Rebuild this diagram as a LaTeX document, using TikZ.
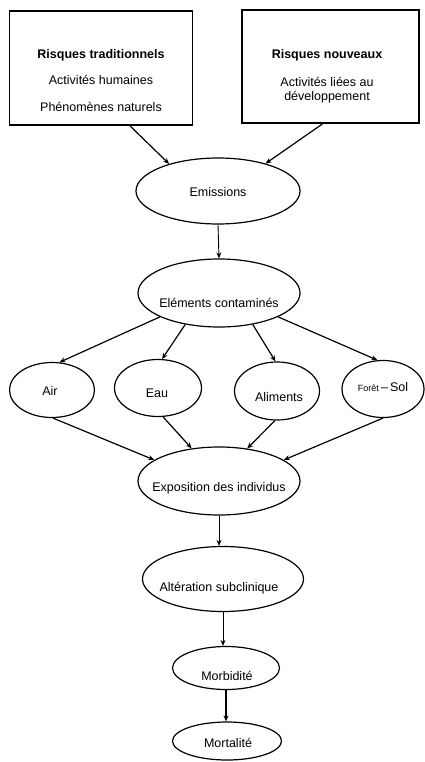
\documentclass[tikz,border=0pt]{standalone}
\usepackage{fontspec}
\setmainfont{Liberation Sans}
\usetikzlibrary{shapes.geometric,arrows.meta}
\begin{document}
\begin{tikzpicture}[x=1pt,y=-1pt,
  box/.style={draw, line width=1.8pt, rectangle, inner sep=0pt},
  ell/.style={draw, line width=1.2pt, ellipse, inner sep=0pt},
  txt/.style={inner sep=0pt, font=\fontsize{12.5}{14}\selectfont, align=center},
  btxt/.style={txt, font=\fontsize{12.5}{14}\selectfont\bfseries},
  arr/.style={line width=1.2pt, -{Stealth[length=6pt,width=5pt]}},
  varr/.style={line width=0.9pt, -{Stealth[length=6pt,width=5pt]}}]
\useasboundingbox (0,0) rectangle (424,762);
% boxes
\node[box, minimum width=183pt, minimum height=114pt] (left) at (101,68) {};
\node[box, minimum width=177pt, minimum height=113pt] (right) at (330.5,66.5) {};
\node[btxt] (lt1) at (101,55) {Risques traditionnels};
\node[txt] (lt2) at (101,80) {Activités humaines};
\node[txt] (lt3) at (101,107) {Phénomènes naturels};
\node[btxt] (rt1) at (327,55) {Risques nouveaux};
\node[txt] (rt2) at (327,90) {Activités liées au\\développement};
% ellipses
\node[ell, minimum width=164pt, minimum height=66pt] (emis) at (218,191) {};
\node[txt] (emist) at (218,192) {Emissions};
\node[ell, minimum width=162pt, minimum height=68pt] (elem) at (219,293) {};
\node[txt] (elemt) at (219,303) {Eléments contaminés};
\node[ell, minimum width=85pt, minimum height=55pt] (air) at (52,390) {};
\node[txt] (airt) at (50,391) {Air};
\node[ell, minimum width=87pt, minimum height=57pt] (eau) at (158,388) {};
\node[txt] (eaut) at (157,393) {Eau};
\node[ell, minimum width=85pt, minimum height=58pt] (alim) at (277,391) {};
\node[txt] (alimt) at (279,397) {Aliments};
\node[ell, minimum width=82pt, minimum height=57pt] (foret) at (383,389) {};
\node[txt] (forett) at (383,387) {{\fontsize{9}{10}\selectfont Forêt}\,–\,Sol};
\node[ell, minimum width=162pt, minimum height=68pt] (expo) at (219,481) {};
\node[txt] (expot) at (219,488) {Exposition des individus};
\node[ell, minimum width=161pt, minimum height=65pt] (alt) at (223,579) {};
\node[txt] (altt) at (219,588) {Altération subclinique};
\node[ell, minimum width=107pt, minimum height=43pt] (morb) at (226,668) {};
\node[txt] (morbt) at (227,676) {Morbidité};
\node[ell, minimum width=109pt, minimum height=38pt] (mort) at (227,741) {};
\node[txt] (mortt) at (228,743) {Mortalité};
% arrows
\draw[arr] ([xshift=29pt]left.south) -- (emis.151);
\draw[arr] ([xshift=-8pt]right.south) -- (emis.30);
\draw[varr] (emis.south) -- (elem.north);
\draw[arr] (elem.202) -- (air.75);
\draw[arr] (elem.223) -- (eau.82);
\draw[arr] (elem.317) -- (alim.93);
\draw[arr] (elem.338) -- (foret.101);
\draw[arr] (air.272) -- (expo.162);
\draw[arr] (eau.280) -- (expo.130);
\draw[arr] (alim.266) -- (expo.49);
\draw[arr] (foret.270) -- (expo.18);
\draw[varr] (expo.south) -- (expo.south |- alt.north);
\draw[varr] (alt.south) -- (alt.south |- morb.north);
\draw[arr, line width=1.5pt] (morb.south) -- (morb.south |- mort.north);
\end{tikzpicture}
\end{document}
